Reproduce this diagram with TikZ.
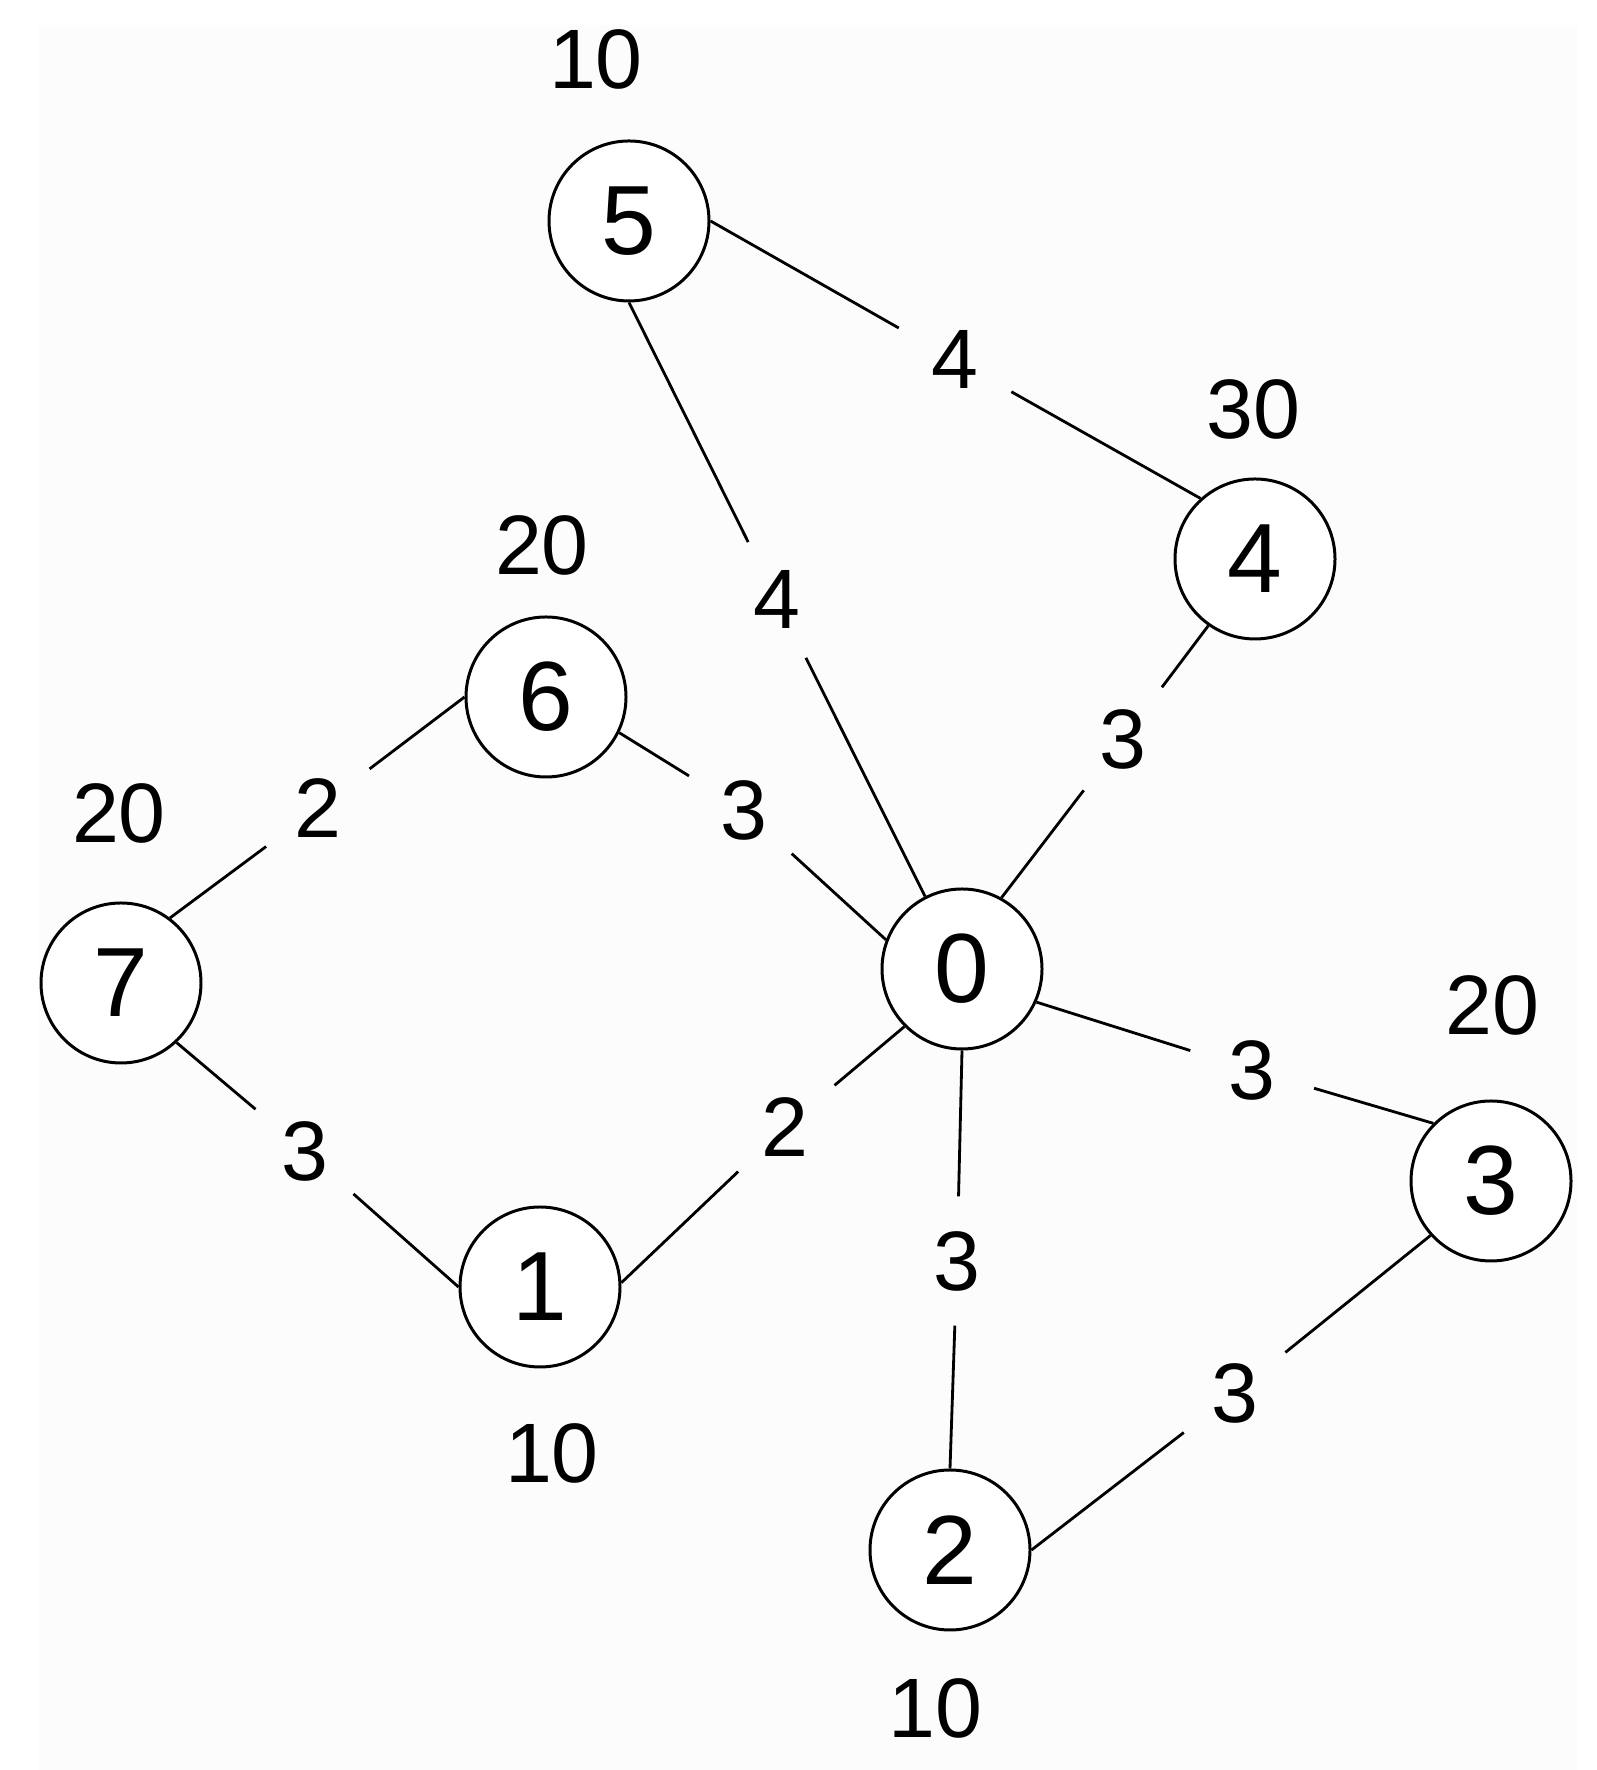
\documentclass[tikz,border=0pt]{standalone}
\usepackage{fontspec}
\setmainfont{Liberation Sans}
\usetikzlibrary{positioning}
\usetikzlibrary{calc}
\definecolor{paper}{HTML}{FCFCFC}

\begin{document}
\begin{tikzpicture}[vertex/.style={circle,draw,line width=0.85pt,fill=white,minimum size=1.6cm,inner sep=0pt,font=\fontsize{28}{30}\selectfont},
  weight/.style={inner sep=0pt,font=\fontsize{24}{26}\selectfont},
  cost/.style={circle,fill=paper,inner sep=0pt,minimum size=1.28cm,font=\fontsize{24}{26}\selectfont},
  link/.style={line width=0.8pt}]
\useasboundingbox (0,0) rectangle (15.96,17.70);
\fill[paper] (0.39,0) rectangle (15.77,17.45);
\coordinate (p0) at (9.62,8.01);
\coordinate (p1) at (5.40,4.83);
\coordinate (p2) at (9.50,2.20);
\coordinate (p3) at (14.91,5.89);
\coordinate (p4) at (12.55,12.11);
\coordinate (p5) at (6.29,15.49);
\coordinate (p6) at (5.46,10.73);
\coordinate (p7) at (1.21,7.87);

  \node[vertex] (n0) at (p0) {0};
  \node[vertex] (n1) at (p1) {1};
  \node[vertex] (n2) at (p2) {2};
  \node[vertex] (n3) at (p3) {3};
  \node[vertex] (n4) at (p4) {4};
  \node[vertex] (n5) at (p5) {5};
  \node[vertex] (n6) at (p6) {6};
  \node[vertex] (n7) at (p7) {7};

  % node weights
  \node[weight] (w1) at (5.52,3.17) {10};
  \node[weight] (w2) at (9.35,0.62) {10};
  \node[weight] (w3) at (14.92,7.65) {20};
  \node[weight] (w4) at (12.53,13.61) {30};
  \node[weight] (w5) at (5.96,17.11) {10};
  \node[weight] (w6) at (5.42,12.25) {20};
  \node[weight] (w7) at (1.19,9.57) {20};

  % edge costs
  \node[cost] (c54) at (9.55,14.10) {4};
  \node[cost] (c50) at (7.77,11.70) {4};
  \node[cost] (c40) at (11.23,10.31) {3};
  \node[cost] (c60) at (7.44,9.60) {3};
  \node[cost] (c76) at (3.18,9.62) {2};
  \node[cost] (c71) at (3.05,6.19) {3};
  \node[cost] (c10) at (7.85,6.43) {2};
  \node[cost] (c03) at (12.52,7.00) {3};
  \node[cost] (c02) at (9.57,5.09) {3};
  \node[cost] (c23) at (12.35,3.77) {3};

  \draw[link] (n5.0) -- (c54) -- (n4.132);
  \draw[link] (n5.-90) -- (c50) -- (n0.117);
  \draw[link] (n4.-125) -- (c40) -- (n0.61);
  \draw[link] (n6.-26) -- (c60) -- (n0.159);
  \draw[link] (n7.53) -- (c76) -- (n6.180);
  \draw[link] (n7.-47) -- (c71) -- (n1.180);
  \draw[link] (n1.3) -- (c10) -- (n0.-135);
  \draw[link] (n0.-24) -- (c03) -- (n3.135);
  \draw[link] (n0.-90) -- (c02) -- (n2.90);
  \draw[link] (n2.0) -- (c23) -- (n3.-138);
\end{tikzpicture}
\end{document}
